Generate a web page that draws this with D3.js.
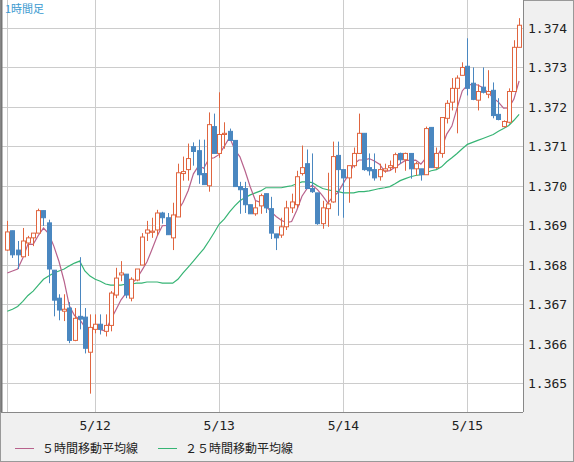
<!DOCTYPE html>
<html><head><meta charset="utf-8">
<script src="https://cdn.jsdelivr.net/npm/d3@7"></script>
<style>body{margin:0;background:#f0f0f0}svg{display:block}</style>
</head><body><svg id="c" width="574" height="462"></svg>
<script>
const title = "1時間足";
const dayLabels = ["5/12","5/13","5/14","5/15"];
const dayIndex = [17,41,65,89];
const yTicks = [1.365,1.366,1.367,1.368,1.369,1.370,1.371,1.372,1.373,1.374];
const legendLabels = ["５時間移動平均線","２５時間移動平均線"];
// [open, high, low, close]
const candles = [
[1.36837,1.36911,1.36835,1.36883],[1.36886,1.36886,1.36817,1.36825],[1.36837,1.36860,1.36789,1.36825],[1.36820,1.36893,1.36820,1.36860],
[1.36855,1.36873,1.36822,1.36868],[1.36868,1.36880,1.36847,1.36880],[1.36880,1.36942,1.36880,1.36937],[1.36937,1.36937,1.36898,1.36919],
[1.36906,1.36914,1.36753,1.36789],[1.36786,1.36786,1.36669,1.36710],[1.36715,1.36725,1.36659,1.36685],[1.36682,1.36725,1.36657,1.36687],
[1.36690,1.36705,1.36601,1.36608],[1.36608,1.36690,1.36606,1.36664],[1.36669,1.36819,1.36636,1.36662],[1.36667,1.36690,1.36575,1.36588],
[1.36578,1.36674,1.36473,1.36641],[1.36636,1.36674,1.36626,1.36649],[1.36649,1.36674,1.36623,1.36636],[1.36631,1.36674,1.36618,1.36646],
[1.36646,1.36733,1.36631,1.36728],[1.36723,1.36792,1.36715,1.36766],[1.36774,1.36809,1.36758,1.36779],[1.36776,1.36776,1.36715,1.36723],
[1.36715,1.36768,1.36707,1.36763],[1.36761,1.36789,1.36758,1.36789],[1.36799,1.36880,1.36799,1.36870],[1.36880,1.36911,1.36860,1.36888],
[1.36882,1.36919,1.36868,1.36885],[1.36888,1.36939,1.36873,1.36931],[1.36931,1.36934,1.36904,1.36919],[1.36919,1.36931,1.36876,1.36876],
[1.36868,1.36957,1.36837,1.36926],[1.36921,1.37056,1.36921,1.37033],[1.37031,1.37074,1.37013,1.37036],[1.37041,1.37107,1.37013,1.37069],
[1.37099,1.37110,1.37051,1.37087],[1.37089,1.37117,1.37005,1.37028],[1.37031,1.37117,1.37003,1.37003],[1.37000,1.37186,1.36985,1.37155],
[1.37150,1.37183,1.37082,1.37082],[1.37082,1.37237,1.37071,1.37130],[1.37130,1.37161,1.37094,1.37133],[1.37138,1.37145,1.37115,1.37115],
[1.37115,1.37115,1.36998,1.36998],[1.36998,1.37010,1.36929,1.36990],[1.36993,1.37010,1.36931,1.36952],[1.36952,1.36952,1.36929,1.36929],
[1.36929,1.36962,1.36924,1.36944],[1.36949,1.36980,1.36929,1.36975],[1.36980,1.36980,1.36931,1.36944],[1.36942,1.36972,1.36865,1.36880],
[1.36878,1.36878,1.36837,1.36868],[1.36875,1.36919,1.36868,1.36896],[1.36896,1.36962,1.36888,1.36944],[1.36944,1.36980,1.36931,1.36959],
[1.36952,1.37038,1.36944,1.37023],[1.37031,1.37102,1.37026,1.37046],[1.37056,1.37092,1.36993,1.36993],[1.36993,1.37082,1.36982,1.36985],
[1.36982,1.36982,1.36901,1.36904],[1.36904,1.36962,1.36891,1.36944],[1.36942,1.37033,1.36896,1.36954],[1.36959,1.37112,1.36957,1.37074],
[1.37077,1.37112,1.36924,1.37041],[1.37041,1.37041,1.36919,1.37020],[1.37020,1.37051,1.36957,1.37051],[1.37051,1.37097,1.37046,1.37082],
[1.37082,1.37183,1.37082,1.37133],[1.37133,1.37133,1.37038,1.37041],[1.37046,1.37082,1.37026,1.37038],[1.37041,1.37082,1.37013,1.37020],
[1.37023,1.37056,1.37013,1.37041],[1.37038,1.37056,1.37033,1.37043],[1.37046,1.37064,1.37038,1.37051],[1.37046,1.37084,1.37033,1.37079],
[1.37082,1.37084,1.37056,1.37066],[1.37066,1.37084,1.37038,1.37082],[1.37082,1.37082,1.37018,1.37043],[1.37043,1.37061,1.37026,1.37056],
[1.37043,1.37043,1.37013,1.37028],[1.37028,1.37150,1.37028,1.37145],[1.37148,1.37148,1.37046,1.37046],[1.37046,1.37097,1.37043,1.37082],
[1.37082,1.37173,1.37071,1.37173],[1.37171,1.37217,1.37158,1.37209],[1.37212,1.37273,1.37191,1.37247],[1.37247,1.37280,1.37133,1.37273],
[1.37280,1.37313,1.37280,1.37300],[1.37303,1.37374,1.37229,1.37247],[1.37260,1.37300,1.37217,1.37219],[1.37217,1.37257,1.37191,1.37239],
[1.37250,1.37300,1.37234,1.37237],[1.37232,1.37293,1.37222,1.37239],[1.37242,1.37262,1.37171,1.37178],[1.37181,1.37222,1.37166,1.37168],
[1.37150,1.37166,1.37148,1.37163],[1.37161,1.37247,1.37158,1.37239],[1.37239,1.37369,1.37239,1.37351],[1.37351,1.37425,1.37351,1.37407]
];
const ma5Start = [1.36779,1.36784,1.36789,1.36817];
const ma25 = [
1.36682,1.36687,1.36694,1.36707,1.36722,1.36733,1.36748,1.36763,1.36771,1.36779,
1.36784,1.36789,1.36797,1.36804,1.36809,1.36784,1.36771,1.36763,1.36758,1.36751,
1.36748,1.36748,1.36748,1.36751,1.36751,1.36753,1.36753,1.36756,1.36756,1.36756,
1.36753,1.36753,1.36753,1.36763,1.36779,1.36794,1.36809,1.36825,1.36840,1.36860,
1.36881,1.36903,1.36916,1.36934,1.36949,1.36962,1.36970,1.36977,1.36982,1.36987,
1.36995,1.36995,1.36995,1.36995,1.36998,1.37000,1.37005,1.37010,1.37010,1.37008,
1.37000,1.36993,1.36990,1.36987,1.36985,1.36982,1.36982,1.36982,1.36985,1.36985,
1.36987,1.36990,1.36993,1.36995,1.36998,1.37005,1.37013,1.37018,1.37023,1.37026,
1.37028,1.37033,1.37038,1.37041,1.37048,1.37061,1.37071,1.37082,1.37094,1.37105,
1.37110,1.37115,1.37120,1.37125,1.37130,1.37138,1.37145,1.37153,1.37166,1.37181
];

const svg = d3.select("#c");
const W=574,H=462, L=1, R=523, T=0, B=412;
const x = d3.scaleLinear().domain([0,candles.length-1]).range([7.3,519.1]);
const y = d3.scaleLinear().domain([1.365,1.374]).range([383,28]);
const UP="#e0653f", DN="#4a87c0";

svg.append("rect").attr("x",0.5).attr("y",0.5).attr("width",W-1).attr("height",H-1).attr("fill","#f0f0f0").attr("stroke","#999");
svg.append("rect").attr("x",L).attr("y",T).attr("width",R-L).attr("height",B-T).attr("fill","#fff");
const g = svg.append("g");
g.selectAll(".hg").data(yTicks).join("line").attr("x1",L).attr("x2",R)
 .attr("y1",d=>Math.round(y(d))+0.5).attr("y2",d=>Math.round(y(d))+0.5).attr("stroke","#ccc");
g.selectAll(".vg").data([0].concat(dayIndex)).join("line").attr("y1",T).attr("y2",B)
 .attr("x1",d=>Math.round(x(d))+0.5).attr("x2",d=>Math.round(x(d))+0.5).attr("stroke","#ccc");
svg.append("line").attr("x1",L+0.5).attr("x2",L+0.5).attr("y1",0).attr("y2",B).attr("stroke","#777").attr("stroke-width",2);
svg.append("line").attr("x1",L).attr("x2",R).attr("y1",B+0.5).attr("y2",B+0.5).attr("stroke","#888");
svg.append("line").attr("x1",R+0.5).attr("x2",R+0.5).attr("y1",0).attr("y2",B).attr("stroke","#888");

const closes = candles.map(c=>c[3]);
const ma5 = closes.map((c,i)=> i<4 ? ma5Start[i] : d3.mean(closes.slice(i-4,i+1)));
const line = d3.line().x((d,i)=>x(i)).y(d=>y(d));
g.append("path").attr("d",line(ma25)).attr("fill","none").attr("stroke","#36b474").attr("stroke-width",1.2);
g.append("path").attr("d",line(ma5)).attr("fill","none").attr("stroke","#b8628c").attr("stroke-width",1.2);

const cg = g.selectAll(".cd").data(candles).join("g");
cg.append("line").attr("x1",(d,i)=>Math.round(x(i))+0.5).attr("x2",(d,i)=>Math.round(x(i))+0.5)
 .attr("y1",d=>y(d[1])).attr("y2",d=>y(d[2])).attr("stroke",d=>d[3]>=d[0]?UP:DN).attr("stroke-width",1);
cg.append("rect").attr("x",(d,i)=>Math.round(x(i))-1.5).attr("width",4)
 .attr("y",d=>y(Math.max(d[0],d[3]))).attr("height",d=>Math.max(1,Math.abs(y(d[0])-y(d[3]))))
 .attr("fill",d=>d[3]>=d[0]?"#fff":DN).attr("stroke",d=>d[3]>=d[0]?UP:DN).attr("stroke-width",1);

const font="'DejaVu Sans Mono', monospace";
svg.selectAll(".yl").data(yTicks).join("text").attr("x",528).attr("y",d=>y(d)+5)
 .attr("font-family",font).attr("font-size",13).attr("fill","#222").text(d=>d3.format(".3f")(d));
svg.selectAll(".xl").data(dayLabels).join("text").attr("x",(d,i)=>x(dayIndex[i])).attr("y",430)
 .attr("text-anchor","middle").attr("font-family",font).attr("font-size",13).attr("fill","#222").text(d=>d);
svg.append("text").attr("x",5).attr("y",13).attr("font-family","'Noto Sans CJK JP', sans-serif").attr("font-size",11).attr("fill","#3a9ad0").text(title);
const lg=[{x:15,c:"#b8628c"},{x:158,c:"#36b474"}];
lg.forEach((l,i)=>{
 svg.append("line").attr("x1",l.x).attr("x2",l.x+19).attr("y1",448.5).attr("y2",448.5).attr("stroke",l.c);
 svg.append("text").attr("x",l.x+27).attr("y",453).attr("font-family","'Noto Sans CJK JP', sans-serif").attr("font-size",12).attr("fill","#222").text(legendLabels[i]);
});
</script></body></html>
